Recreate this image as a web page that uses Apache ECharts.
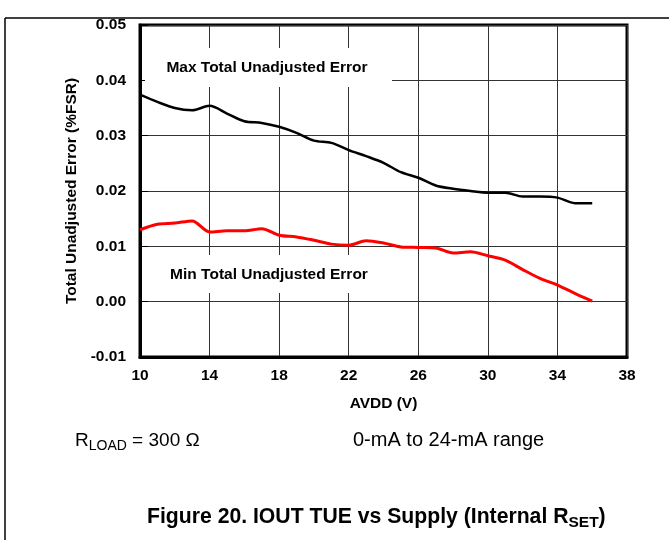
<!DOCTYPE html>
<html>
<head>
<meta charset="utf-8">
<title>IOUT TUE vs Supply</title>
<script src="https://cdn.jsdelivr.net/npm/echarts@6/dist/echarts.min.js"></script>
<style>
  html, body { margin: 0; padding: 0; background: #fff; }
  #chart { width: 669px; height: 540px; }
</style>
</head>
<body>
<div id="chart"></div>
<script>
const avdd = [10, 11, 12, 13, 14, 15, 16, 17, 18, 19, 20, 21, 22, 23, 24, 25, 26, 27, 28, 29, 30, 31, 32, 33, 34, 35, 36]
const maxTue = [0.0374, 0.0361, 0.0350, 0.0346, 0.0354, 0.0340, 0.0326, 0.0323, 0.0316, 0.0305, 0.0291, 0.0287, 0.0274, 0.0263,
  0.0251, 0.0234, 0.0224, 0.0210, 0.0204, 0.0200, 0.0197, 0.0197, 0.0190, 0.0190, 0.0188, 0.0178, 0.0178]
const minTue = [0.0130, 0.0140, 0.0142, 0.0146, 0.0126, 0.0128, 0.0128, 0.0132, 0.0120, 0.0117, 0.0111, 0.0104, 0.0102, 0.0110,
  0.0106, 0.0099, 0.0098, 0.0097, 0.0088, 0.0090, 0.0083, 0.0075, 0.0058, 0.0042, 0.0030, 0.0015, 0.0001]

const font = 'Liberation Sans, Arial, sans-serif'
const chart = echarts.init(document.getElementById('chart'))

chart.setOption({
  backgroundColor: '#fff',
  animation: false,
  grid: {
    left: 140,
    right: 42,
    top: 25,
    bottom: 183,
    show: true,
    borderColor: '#000',
    borderWidth: 3
  },
  xAxis: {
    type: 'value',
    min: 10,
    max: 38,
    interval: 4,
    name: 'AVDD (V)',
    nameLocation: 'middle',
    nameGap: 39,
    nameTextStyle: { fontFamily: font, fontWeight: 'bold', fontSize: 15.5, color: '#000' },
    axisLine: { onZero: false, lineStyle: { color: '#000', width: 3 } },
    axisTick: { show: false },
    axisLabel: { margin: 11, fontFamily: font, fontWeight: 'bold', fontSize: 15.5, color: '#000' },
    splitLine: { show: true, lineStyle: { color: '#333', width: 1 } }
  },
  yAxis: {
    type: 'value',
    min: -0.01,
    max: 0.05,
    interval: 0.01,
    name: 'Total Unadjusted Error (%FSR)',
    nameLocation: 'middle',
    nameGap: 59,
    nameTextStyle: { fontFamily: font, fontWeight: 'bold', fontSize: 15.5, color: '#000' },
    axisLine: { show: true, onZero: false, lineStyle: { color: '#000', width: 3 } },
    axisTick: { show: true, inside: true, length: 8, lineStyle: { color: '#000' } },
    axisLabel: {
      margin: 14,
      fontFamily: font,
      fontWeight: 'bold',
      fontSize: 15.5,
      color: '#000',
      formatter: v => (Math.abs(v) < 1e-9 ? 0 : v).toFixed(2)
    },
    splitLine: { show: true, lineStyle: { color: '#333', width: 1 } }
  },
  series: [
    {
      name: 'Max Total Unadjusted Error',
      type: 'line',
      smooth: 0.3,
      symbol: 'none',
      lineStyle: { color: '#000', width: 2.5 },
      data: avdd.map((v, i) => [v, maxTue[i]])
    },
    {
      name: 'Min Total Unadjusted Error',
      type: 'line',
      smooth: 0.3,
      symbol: 'none',
      lineStyle: { color: '#ff0000', width: 3 },
      data: avdd.map((v, i) => [v, minTue[i]])
    }
  ],
  graphic: [
    // page frame
    { type: 'line', z: 10, shape: { x1: 5, y1: 18, x2: 669, y2: 18 }, style: { stroke: '#000', lineWidth: 1.5 } },
    { type: 'line', z: 10, shape: { x1: 5, y1: 18, x2: 5, y2: 540 }, style: { stroke: '#000', lineWidth: 1.5 } },
    // curve labels, white boxes hide the grid behind them
    { type: 'rect', z: 10, shape: { x: 145, y: 48, width: 247, height: 39 }, style: { fill: '#fff' } },
    {
      type: 'text', z: 11, x: 267, y: 68,
      style: { text: 'Max Total Unadjusted Error', font: 'bold 15.5px ' + font, fill: '#000', align: 'center', verticalAlign: 'middle' }
    },
    { type: 'rect', z: 10, shape: { x: 145, y: 255, width: 245, height: 38 }, style: { fill: '#fff' } },
    {
      type: 'text', z: 11, x: 269, y: 275,
      style: { text: 'Min Total Unadjusted Error', font: 'bold 15.5px ' + font, fill: '#000', align: 'center', verticalAlign: 'middle' }
    },
    // conditions and caption
    {
      type: 'text', z: 11, x: 75, y: 431,
      style: {
        text: '{n|R}{s|LOAD}{n| = 300 Ω}',
        rich: {
          n: { fontFamily: font, fontSize: 19, lineHeight: 22, verticalAlign: 'top', fill: '#000' },
          s: { fontFamily: font, fontSize: 14, lineHeight: 15, padding: [11, 0, 0, 0], verticalAlign: 'bottom', fill: '#000' }
        }
      }
    },
    {
      type: 'text', z: 11, x: 353, y: 440,
      style: { text: '0-mA to 24-mA range', font: '20px ' + font, fill: '#000', verticalAlign: 'middle' }
    },
    {
      type: 'text', z: 11, x: 147, y: 507,
      style: {
        text: '{b|Figure 20. IOUT TUE vs Supply (Internal R}{s|SET}{b|)}',
        rich: {
          b: { fontFamily: font, fontWeight: 'bold', fontSize: 21.2, lineHeight: 24, verticalAlign: 'top', fill: '#000' },
          s: { fontFamily: font, fontWeight: 'bold', fontSize: 15.5, lineHeight: 16, padding: [12, 0, 0, 0], verticalAlign: 'bottom', fill: '#000' }
        }
      }
    }
  ]
})
</script>
</body>
</html>
